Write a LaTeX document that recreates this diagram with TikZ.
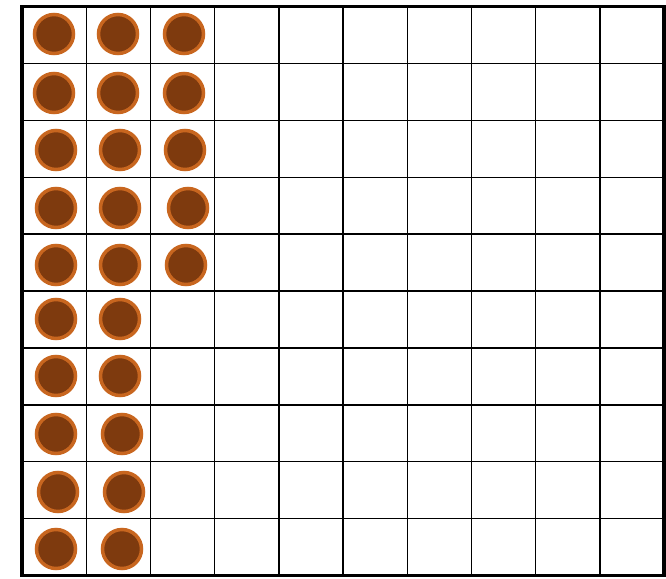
\documentclass[tikz,border=0pt]{standalone}
\usepackage{tikz}
\usetikzlibrary{calc}

\definecolor{beadbrown}{HTML}{7E3A0E}
\definecolor{beadrim}{HTML}{C8661F}

\begin{document}
\begin{tikzpicture}[x=1pt, y=-1pt,
  gridline/.style={line width=1.4pt, black},
  frameline/.style={line width=3.6pt, black},
  bead/.style={fill=beadbrown, draw=beadrim, line width=3.5pt}]

  \useasboundingbox (0,0) rectangle (666,578);

  % =========== 网格 (10 x 10) ===========
  \coordinate (NW) at (22, 6.5);
  \coordinate (SE) at (664, 575.5);
  \foreach \i in {1,...,9} {
    \draw[gridline] (22+64.2*\i, 6.5) -- (22+64.2*\i, 575.5);
    \draw[gridline] (22, 6.5+56.9*\i) -- (664, 6.5+56.9*\i);
  }
  \draw[frameline] (NW) rectangle (SE);

  % =========== 圆形计数珠 ===========
  \foreach \cx/\cy in {54/34, 118/34, 184/34,
                       54/93, 118/93, 184/93,
                       56/150, 120/150, 185/150,
                       56/208, 120/208, 188/208,
                       56/265, 120/265, 186/265,
                       56/319, 120/319,
                       56/376, 120/376,
                       56/434, 122/434,
                       58/492, 124/492,
                       56/549, 122/549}
    \draw[bead] (\cx, \cy) circle (19.5pt);

\end{tikzpicture}
\end{document}
